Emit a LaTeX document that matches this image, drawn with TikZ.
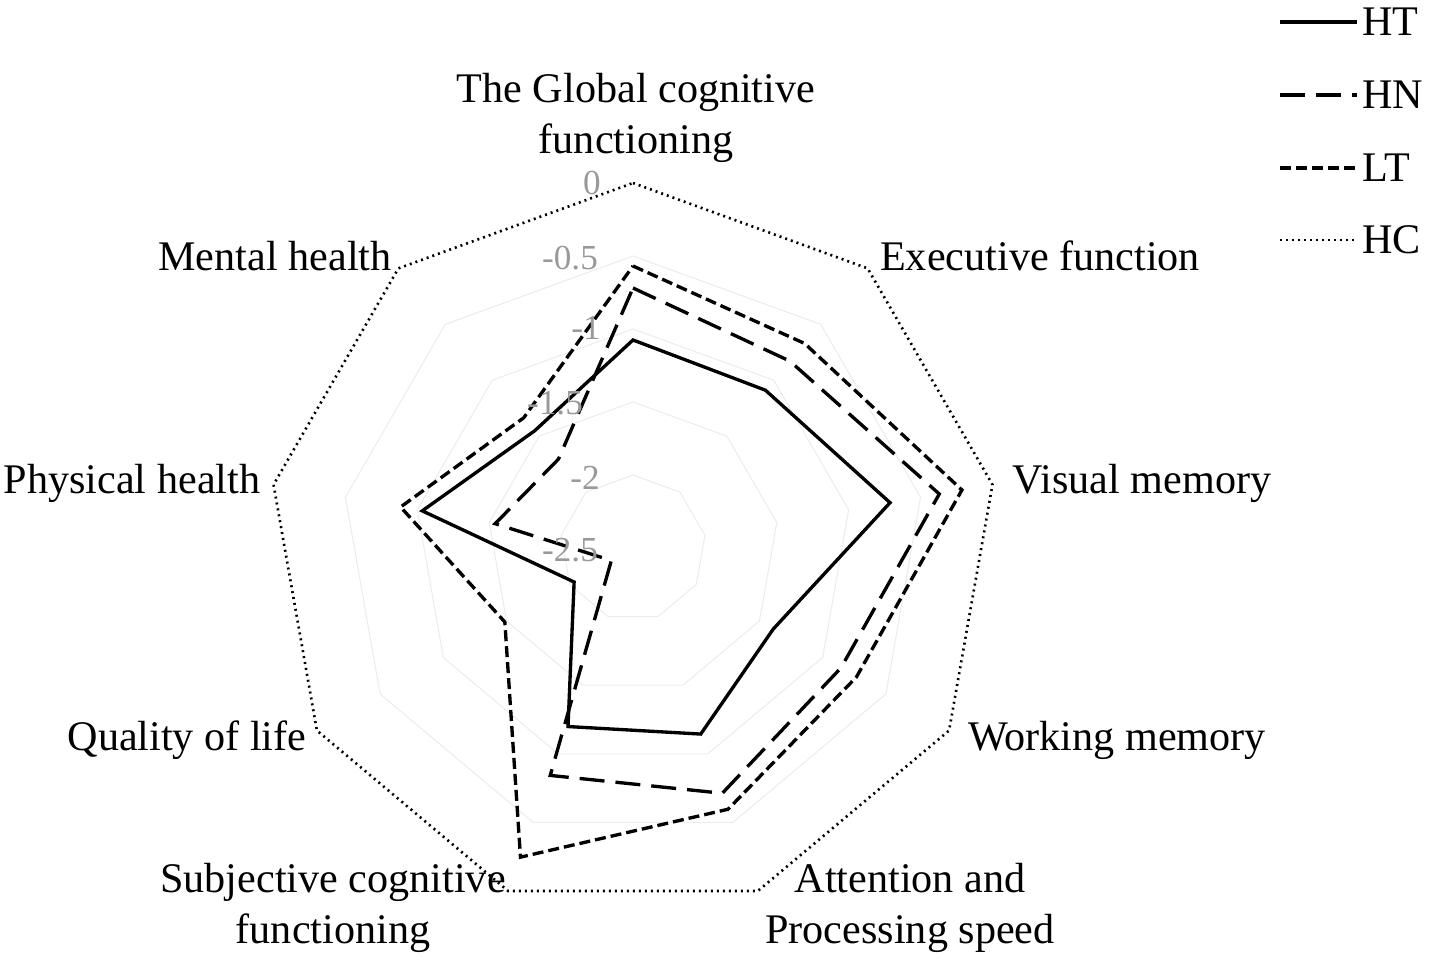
\documentclass[tikz,border=0pt]{standalone}
\usepackage{fontspec}
\setmainfont{Liberation Serif}
\usetikzlibrary{calc}
\begin{document}
\begin{tikzpicture}[x=0.02cm,y=-0.02cm,
  lbl/.style={font=\fontsize{24}{29}\selectfont,align=center},
  tick/.style={font=\fontsize{20}{22}\selectfont,text=gray!80},
  ring/.style={draw=gray!15,line width=0.6pt},
  ht/.style={line width=1.9pt},
  hn/.style={line width=1.9pt,dash pattern=on 0.5cm off 0.22cm},
  lt/.style={line width=1.9pt,dash pattern=on 0.22cm off 0.1cm},
  hc/.style={line width=1.5pt,dash pattern=on 0.04cm off 0.08cm}]
\useasboundingbox (0,0) rectangle (1429,962);
\coordinate (c) at (633,548);
% grid rings
\foreach \r in {73,146,219,292}{
  \draw[ring] ($(c)+(-90:\r)$) \foreach \i in {1,...,8}{ -- ($(c)+({-90+40*\i}:\r)$)} -- cycle;
}
% HC (value 0)
\draw[hc] ($(c)+(-90:365)$) \foreach \i in {1,...,8}{ -- ($(c)+({-90+40*\i}:365)$)} -- cycle;
% series
\newcommand{\myseries}[3]{%
  \draw[#1] ($(c)+(-90:#2)$) \foreach [count=\i] \r in {#3}{ -- ($(c)+({-90+40*\i}:\r)$) } -- cycle;}
\myseries{ht}{208}{206,261,162,198,190,68,214,153}
\myseries{hn}{260}{244,311,240,261,242,25,140,116}
\myseries{lt}{282}{267,334,258,278,329,148,236,170}
% tick labels
\node[tick] at (592,183) {0};
\node[tick] at (570,258) {-0.5};
\node[tick] at (586,328) {-1};
\node[tick] at (555,403) {-1.5};
\node[tick] at (585,478) {-2};
\node[tick] at (570,550) {-2.5};
% axis labels
\node[lbl] (a0) at (636,118) {The Global cognitive\\functioning};
\node[lbl] (a1) at (1040,256) {Executive function};
\node[lbl] (a2) at (1142,483) {Visual memory};
\node[lbl] (a3) at (1117,740) {Working memory};
\node[lbl] (a4) at (910,908) {Attention and\\Processing speed};
\node[lbl] (a5) at (333,908) {Subjective cognitive\\functioning};
\node[lbl] (a6) at (187,740) {Quality of life};
\node[lbl] (a7) at (132,483) {Physical health};
\node[lbl] (a8) at (275,256) {Mental health};
% legend
\coordinate (l1a) at (1280,22); \coordinate (l1b) at (1357,22);
\coordinate (l2a) at (1280,95); \coordinate (l2b) at (1357,95);
\coordinate (l3a) at (1280,168); \coordinate (l3b) at (1357,168);
\coordinate (l4a) at (1280,240); \coordinate (l4b) at (1357,240);
\draw[ht] (l1a) -- (l1b); \draw[hn] (l2a) -- (l2b);
\draw[lt] (l3a) -- (l3b); \draw[hc] (l4a) -- (l4b);
\node[lbl,anchor=west] at (1356,22) {HT};
\node[lbl,anchor=west] at (1356,95) {HN};
\node[lbl,anchor=west] at (1356,168) {LT};
\node[lbl,anchor=west] at (1356,240) {HC};
\end{tikzpicture}
\end{document}
